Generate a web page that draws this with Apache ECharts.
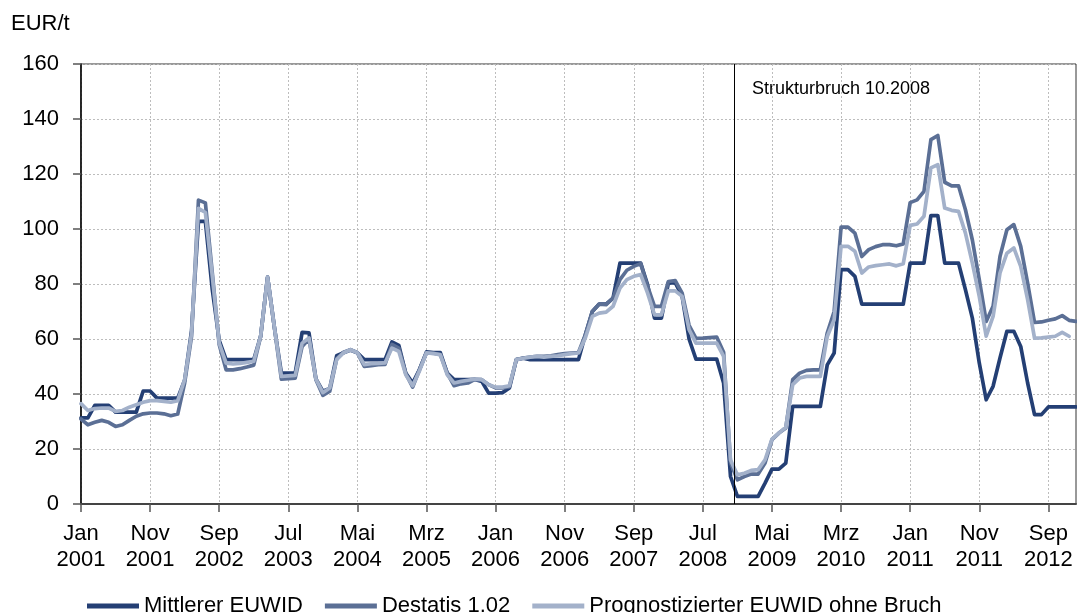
<!DOCTYPE html>
<html>
<head>
<meta charset="utf-8">
<script src="https://cdn.jsdelivr.net/npm/echarts@6/dist/echarts.min.js"></script>
<style>
html,body{margin:0;padding:0;background:#fff;}
#chart{width:1077px;height:613px;}
</style>
</head>
<body>
<div id="chart"></div>
<script>
// Monthly values Jan 2001 .. Jan 2013 (index 0..144)
const tickPositions = [0,10,20,30,40,50,60,70,80,90,100,110,120,130,140];
const tickLabels = ['Jan\n2001','Nov\n2001','Sep\n2002','Jul\n2003','Mai\n2004','Mrz\n2005','Jan\n2006','Nov\n2006','Sep\n2007','Jul\n2008','Mai\n2009','Mrz\n2010','Jan\n2011','Nov\n2011','Sep\n2012'];
const seriesNames = ['Mittlerer EUWID','Destatis 1.02','Prognostizierter EUWID ohne Bruch'];
const breakPosition = 94.5;
const breakLabel = 'Strukturbruch 10.2008';

const euwid = [
31.3,31.3,35.9,35.9,35.9,33.4,33.4,33.4,33.4,41.1,
41.1,38.5,38.5,38.5,38.5,45,63,102.8,102.8,78,
59.5,52.5,52.5,52.5,52.5,52.5,61,82.5,64,47.6,
47.6,47.6,62.4,62.2,45.5,41,42,53.9,55,56,
55,52.5,52.5,52.5,52.5,58.9,57.7,47.6,44,49,
55.3,55.1,55.1,47.6,45.2,45.2,45.2,45.3,44.6,40.3,
40.3,40.5,42.2,52.5,53,52.5,52.5,52.5,52.5,52.5,
52.5,52.5,52.5,61.6,70,72.7,72.7,74.9,87.6,87.6,
87.6,87.6,79.7,67.6,67.6,80.3,80.5,75.5,60,52.7,
52.7,52.7,52.7,44,10,2.8,2.8,2.8,2.8,7.6,
12.7,12.7,14.9,35.5,35.5,35.5,35.5,35.5,50.6,54.9,
85.2,85.2,82.8,72.7,72.7,72.7,72.7,72.7,72.7,72.7,
87.6,87.6,87.6,104.9,104.9,87.6,87.6,87.6,77.9,67.6,
51.3,37.9,42.8,53.1,62.8,62.8,57.3,44,32.5,32.5,
35.3,35.3,35.3,35.3,35.3
];
const destatis = [
30.9,28.8,29.7,30.4,29.7,28.2,28.8,30.4,31.9,32.8,
33.1,33.1,32.8,32.1,32.7,44,61,110.5,109.5,84,
58,48.8,48.8,49.2,49.8,50.5,61,82.5,64,45.4,
45.6,45.8,57.3,60,45.2,39.5,41,52.8,55.2,56.1,
55,50,50.3,50.7,50.8,58,56.7,47.5,42.5,49,
55,54.9,54.3,47.6,43,43.7,44,45.3,45.2,43.4,
42.2,42.2,42.6,52.5,53.1,53.4,53.7,53.7,53.9,54.3,
54.7,54.9,55.1,61.6,70,72.7,72.5,74.9,81.6,85,
86.4,87.4,79.1,71.9,71.9,80.9,81.2,76.7,65,60.2,
60.3,60.5,60.7,55.2,15,8.8,10,10.9,10.9,14.9,
23.4,25.8,27.6,45.2,47.6,48.6,48.8,48.8,62.2,70,
100.7,100.7,98.5,90,92.5,93.6,94.3,94.3,93.9,94.6,
109.6,110.6,113.7,132.5,134,117,115.7,115.7,107,96,
81.6,66.4,71.9,90,99.7,101.6,93.7,80.3,66,66.2,
66.8,67.3,68.5,66.8,66.4
];
const prognose = [
36.5,34,34.7,34.9,34.9,33.7,34,35.2,36.1,37,
37.6,37.6,37.3,37,37.6,45.2,62,107.5,106,83,
58.5,51.2,50.9,51.1,51.5,51.9,61,82.5,64,46.4,
46.6,46.8,58.5,60.4,45.4,40.5,42.2,52.5,55,56.1,
55,50.7,51,51.1,51.3,56.7,55.5,47,43,48.5,
55,54.7,54.3,47,44,44.6,45,45.4,45.2,43.4,
42.5,42.5,43,52.5,53,53.4,53.7,53.4,53.7,53.9,
54.3,54.7,54.9,60.5,68.2,69.4,69.8,71.9,78.5,81.6,
82.8,83.4,76.7,68.8,68.8,77.5,77.5,75.5,63.4,58.5,
58.5,58.5,58.5,53.7,16,10.6,11.2,12.2,12.5,16.1,
23.6,25.8,27.9,43.4,45.8,46.4,46.4,46.4,60.9,67,
93.7,93.7,91.9,84,86.2,86.7,87,87.3,86.6,87.4,
101.3,101.8,104.6,122.2,123.4,107.6,106.8,106.4,98.5,87.6,
75.5,61,68.2,84,91.2,93.1,86.4,74.3,60.3,60.4,
60.7,61,62.4,61,null
];

const FONT = "'Liberation Sans', Arial, sans-serif";
const colors = ['#243F74', '#5B6F95', '#A3B1CA'];
const toPairs = arr => arr.map((v, i) => [i, v]);

const chart = echarts.init(document.getElementById('chart'), null, {renderer: 'canvas'});
const labelMap = {};
tickPositions.forEach((p, k) => { labelMap[p] = tickLabels[k]; });

const lineSeries = (name, data, color, extra) => Object.assign({
  name: name, type: 'line', data: toPairs(data), symbol: 'none',
  lineStyle: {color: color, width: 3.7, join: 'round', cap: 'round'},
  itemStyle: {color: color}
}, extra || {});

chart.setOption({
  animation: false,
  backgroundColor: '#fff',
  textStyle: {fontFamily: FONT},
  title: {
    text: 'EUR/t', left: 11, top: 13, padding: 0,
    textStyle: {fontFamily: FONT, fontSize: 22, fontWeight: 'normal', color: '#000'}
  },
  grid: {
    left: 81, top: 64, width: 995, height: 440,
    show: true, borderColor: '#333', borderWidth: 1, containLabel: false
  },
  legend: {
    left: 82, top: 590, itemWidth: 52, itemHeight: 5, itemGap: 22,
    textStyle: {fontFamily: FONT, fontSize: 22, color: '#000'},
    data: seriesNames.map(n => ({name: n, icon: 'rect'}))
  },
  xAxis: {
    type: 'value', min: 0, max: 144,
    axisLine: {show: true, onZero: false, lineStyle: {color: '#444', width: 2}},
    axisTick: {show: true, length: 8, customValues: tickPositions, lineStyle: {color: '#555', width: 1.5}},
    axisLabel: {
      customValues: tickPositions, margin: 17,
      fontFamily: FONT, fontSize: 22, color: '#000', lineHeight: 26,
      formatter: v => labelMap[v] || ''
    },
    splitLine: {show: true, lineStyle: {color: '#bdbdbd', type: [2, 2], width: 1}}
  },
  yAxis: {
    type: 'value', min: 0, max: 160, interval: 20,
    axisLine: {show: true, lineStyle: {color: '#000', width: 1.5}},
    axisTick: {show: true, length: 8, lineStyle: {color: '#555', width: 1.5}},
    axisLabel: {margin: 22, fontFamily: FONT, fontSize: 22, color: '#000'},
    splitLine: {show: true, lineStyle: {color: '#bdbdbd', type: [2, 2], width: 1}}
  },
  graphic: [{
    type: 'text', left: 752, top: 80, silent: true,
    style: {text: breakLabel, fontFamily: FONT, fontSize: 18, fill: '#000'}
  }],
  series: [
    lineSeries(seriesNames[0], euwid, colors[0], {
      markLine: {
        silent: true, symbol: ['none', 'none'], label: {show: false},
        lineStyle: {color: '#000', width: 1, type: 'solid'},
        data: [{xAxis: breakPosition}]
      }
    }),
    lineSeries(seriesNames[1], destatis, colors[1]),
    lineSeries(seriesNames[2], prognose, colors[2])
  ]
});
</script>
</body>
</html>
